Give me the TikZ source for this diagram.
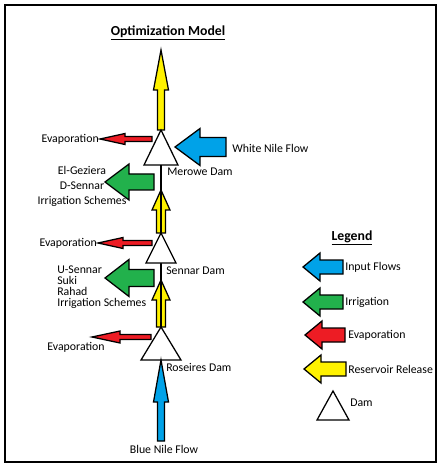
\documentclass[tikz,border=0pt]{standalone}
\usepackage{fontspec}
\setmainfont{Carlito}
\definecolor{flowblue}{RGB}{0,162,232}
\definecolor{irrgreen}{RGB}{34,177,76}
\definecolor{evapred}{RGB}{237,28,36}
\definecolor{relyellow}{RGB}{255,242,0}
\tikzset{
  lbl/.style={font=\fontsize{8.4}{9.5}\selectfont,inner sep=0pt},
  heading/.style={font=\fontsize{9.8}{11}\selectfont\bfseries,inner sep=0pt},
  blk/.style={draw,line width=0.9pt,line join=miter},
  damtri/.style={draw,line width=0.9pt,fill=white,line join=miter},
}
% block arrow: fill, tip, angle, length, head length, head width, shaft width
\newcommand{\flowarrow}[7]{%
  \begin{scope}[shift={#2},rotate=#3]
    \draw[blk,fill=#1] (0,0) -- (-#5,#6/2) -- (-#5,#7/2) -- (-#4,#7/2)
      -- (-#4,-#7/2) -- (-#5,-#7/2) -- (-#5,-#6/2) -- cycle;
  \end{scope}}
% dam triangle: apex, half width, height
\newcommand{\damshape}[3]{%
  \draw[damtri] #1 -- ++(#2,#3) -- ++(-2*#2,0) -- cycle;}
\begin{document}
\begin{tikzpicture}[x=0.025cm,y=-0.025cm]
  \useasboundingbox (0,0) rectangle (444,471);
  \draw[line width=1.3pt] (5,5) rectangle (436,462);
  \node[heading] (title) at (168,33) {\underline{Optimization Model}};

  % dams along the river
  \coordinate (merowe) at (161,130);
  \coordinate (sennar) at (161,233);
  \coordinate (roseires) at (161,327);

  % releases
  \flowarrow{relyellow}{(161,50)}{90}{80}{40}{15}{7}
  \flowarrow{relyellow}{(161,190)}{90}{43}{20}{18}{9}
  \flowarrow{relyellow}{(161,280)}{90}{47}{20}{18}{9}
  \draw[line width=1.3pt] (161,165) -- (roseires);

  \damshape{(merowe)}{17}{35}
  \damshape{(sennar)}{15}{30}
  \damshape{(roseires)}{20}{33}

  % Merowe
  \flowarrow{evapred}{(100,139)}{180}{52}{25}{11}{5}
  \flowarrow{flowblue}{(175,147)}{180}{51}{25}{37}{19}
  \flowarrow{irrgreen}{(105,182)}{180}{49}{24}{36}{16}
  \node[lbl,anchor=east] (evap1) at (99,139) {Evaporation};
  \node[lbl,anchor=west] (white) at (232,148) {White Nile Flow};
  \node[lbl,anchor=west] (merlbl) at (167,172) {Merowe Dam};
  \node[lbl,align=center,font=\fontsize{8.4}{10.7}\selectfont] (irr1) at (82,186)
    {El-Geziera\\D-Sennar\\Irrigation Schemes};

  % Sennar
  \flowarrow{evapred}{(98,243)}{180}{54}{25}{11}{5}
  \flowarrow{irrgreen}{(105,278)}{180}{49}{24}{37}{17}
  \node[lbl,anchor=east] (evap2) at (97,243) {Evaporation};
  \node[lbl,anchor=west] (senlbl) at (166,271) {Sennar Dam};
  \node[lbl,align=left,anchor=west,font=\fontsize{8.4}{7.9}\selectfont] (irr2) at (57,287)
    {U-Sennar\\Suki\\Rahad\\Irrigation Schemes};

  % Roseires
  \flowarrow{evapred}{(92,337)}{180}{59}{28}{12}{5}
  \flowarrow{flowblue}{(161,360)}{90}{81}{42}{15}{7}
  \node[lbl] (evap3) at (76,347) {Evaporation};
  \node[lbl,anchor=west] (roslbl) at (166,367) {Roseires Dam};
  \node[lbl] (blue) at (164,449) {Blue Nile Flow};

  % legend
  \node[heading] (legend) at (352,238) {\underline{Legend}};
  \flowarrow{flowblue}{(303,267)}{180}{40}{17}{28}{14}
  \flowarrow{irrgreen}{(303,302)}{180}{40}{17}{28}{14}
  \flowarrow{evapred}{(305,335)}{180}{40}{17}{28}{14}
  \flowarrow{relyellow}{(304,369)}{180}{42}{17}{28}{14}
  \damshape{(333,391)}{16}{29}
  \node[lbl,anchor=west] (leginput) at (345,267) {Input Flows};
  \node[lbl,anchor=west] (legirr) at (345,302) {Irrigation};
  \node[lbl,anchor=west] (legevap) at (348,335) {Evaporation};
  \node[lbl,anchor=west] (legrel) at (348,369) {Reservoir Release};
  \node[lbl,anchor=west] (legdam) at (350,403) {Dam};
\end{tikzpicture}
\end{document}
